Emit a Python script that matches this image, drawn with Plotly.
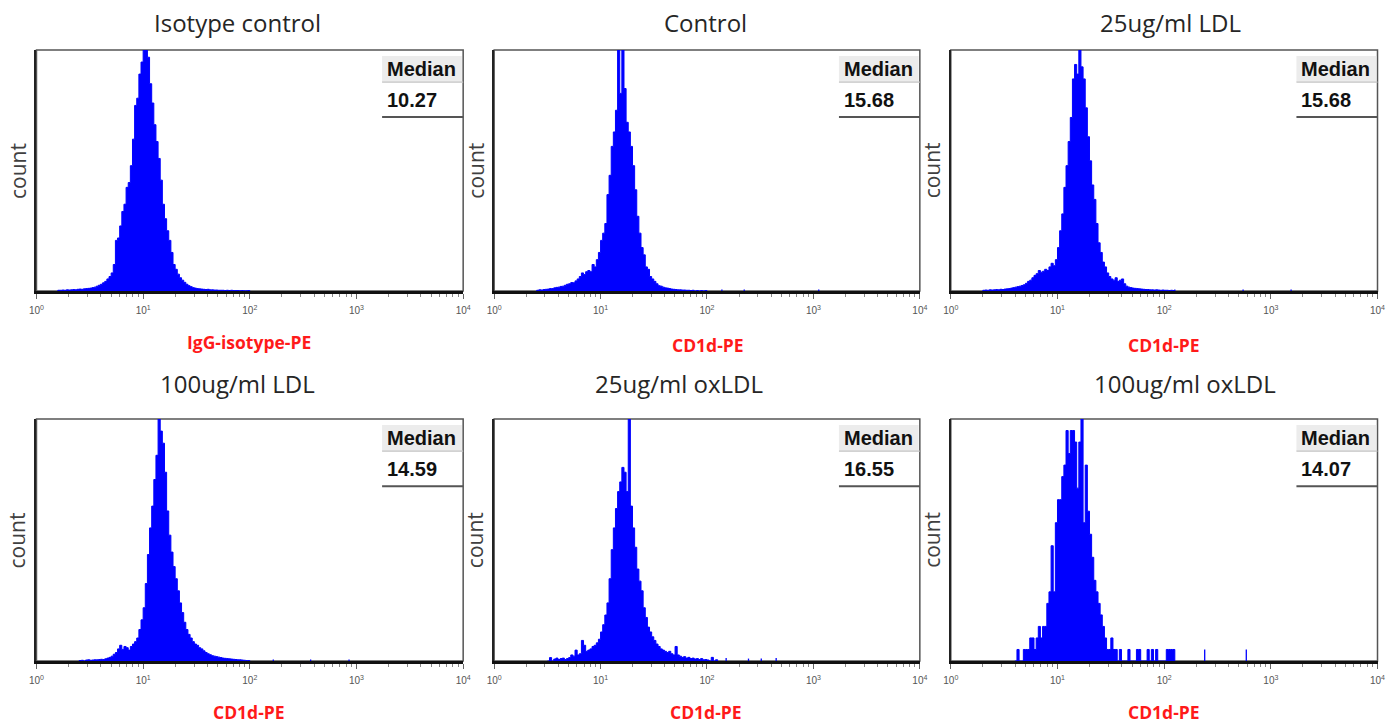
import plotly.graph_objects as go

# ---------------- data ----------------
PANEL_TITLES = ["Isotype control", "Control", "25ug/ml LDL",
                "100ug/ml LDL", "25ug/ml oxLDL", "100ug/ml oxLDL"]
X_LABELS = ["IgG-isotype-PE", "CD1d-PE", "CD1d-PE", "CD1d-PE", "CD1d-PE", "CD1d-PE"]
MEDIANS = ["10.27", "15.68", "15.68", "14.59", "16.55", "14.07"]

TICK_VALS = [1, 10, 100, 1000, 10000]
TICK_TEXT = ["10<sup>0</sup>", "10<sup>1</sup>", "10<sup>2</sup>", "10<sup>3</sup>", "10<sup>4</sup>"]

LOG_BIN_WIDTH = 0.02   # histogram channel width in decades

# first channel (log10 of fluorescence) of each histogram
P1_START = 0.20
P2_START = 0.40
P3_START = 0.30
P4_START = 0.40
P5_START = 0.50
P6_START = 0.60

# counts per channel (panels 1-5 in % of the plot height, panel 6 in events)
P1_COUNTS = [0.3, 0.3, 0.4, 0.3, 0.5, 0.4, 0.5, 0.6, 0.5, 0.7,
             0.8, 0.7, 0.9, 1.0, 1.1, 1.2, 1.4, 1.6, 2.0, 2.4,
             2.8, 3.4, 4.0, 5.0, 6.0, 7.5, 11, 21, 22, 27,
             33, 36, 43, 45, 52, 63, 77, 80, 90, 95,
             104, 106, 97, 86, 78, 69, 62, 55, 46, 36,
             30, 25, 21, 16, 11, 9, 7, 5.5, 4.5, 3.6,
             2.8, 2.2, 1.8, 1.4, 1.2, 1.0, 0.9, 0.8, 0.7, 0.6,
             0.7, 0.5, 0.5, 0.4, 0.4, 0.3, 0.3, 0.3, 0.2, 0.3,
             0.2, 0.3, 0.2, 0.2, 0.2, 0.1, 0.2, 0.1, 0.1, 0.2]
P2_COUNTS = [0.3, 0.5, 0.4, 0.6, 0.7, 0.8, 1.0, 1.0, 1.3, 1.5,
             1.6, 1.9, 2.0, 2.4, 2.8, 3.0, 3.5, 3.4, 4.2, 5.0,
             6.0, 7.5, 6.8, 8.0, 8.5, 8.0, 11, 10, 13, 16,
             21, 24, 28, 40, 48, 60, 66, 75, 104, 82,
             110, 84, 70, 66, 60, 52, 42, 31, 24, 18,
             15, 10, 9, 6, 5, 4, 3, 2.2, 2.0, 1.6,
             1.3, 1.2, 1.0, 0.8, 0.7, 0.6, 0.5, 0.5, 0.4, 0.4,
             0.3, 0.3, 0.2, 0.3, 0, 0.2, 0, 0.2, 0, 0.2]
P3_COUNTS = [0.3, 0.4, 0.3, 0.5, 0.4, 0.5, 0.6, 0.5, 0.7, 0.6,
             0.8, 0.9, 1.0, 1.2, 1.4, 1.6, 1.8, 2.0, 2.3, 2.6,
             3.2, 4.0, 4.5, 5.5, 6.5, 7.2, 8.5, 7.8, 8.2, 9.0,
             8.5, 10, 11.5, 10.5, 13, 18, 25, 32, 43, 52,
             62, 72, 88, 94, 90, 106, 93, 88, 76, 64,
             54, 44, 38, 28, 20, 16, 12, 10, 7.5, 6,
             5, 4.5, 5.5, 4, 4.5, 5, 3, 2, 1.6, 1.4,
             1.2, 1.1, 1.0, 0.9, 0.8, 0.7, 0.6, 0.6, 0.5, 0.5,
             0.4, 0.5, 0.4, 0.3, 0.4, 0.3, 0.3, 0.2, 0.3, 0.2]
P4_COUNTS = [0.2, 0.3, 0, 0.4, 0.5, 0.3, 0.4, 0.5, 0.5, 0.6,
             0.7, 0.6, 0.9, 1.2, 1.5, 2.0, 2.8, 3.5, 5.0, 6.5,
             4.8, 6.0, 5.5, 4.5, 6.0, 7.0, 8.0, 9.5, 13, 17,
             22, 32, 44, 55, 64, 75, 85, 104, 95, 90,
             78, 62, 52, 45, 39, 34, 29, 24, 20, 16,
             13, 11, 9.5, 8, 7, 6.5, 5.5, 5, 4.2, 3.5,
             3, 2.6, 2.2, 2.0, 1.8, 1.6, 1.4, 1.2, 1.1, 1.0,
             0.9, 0.8, 0.7, 0.6, 0.5, 0.5, 0.4, 0.3, 0.2, 0.2]
P5_COUNTS = [0, 1.4, 0, 0.8, 1.2, 0.6, 1.0, 1.2, 0.6, 1.0,
             1.4, 2.5, 2.0, 4.5, 2.5, 3.0, 8.5, 6.5, 4.0, 4.5,
             5.0, 6.0, 6.5, 7.5, 9.0, 12, 15, 19, 24, 34,
             46, 55, 63, 70, 74, 80, 78, 70, 115, 64,
             55, 47, 38, 33, 29, 22, 18, 14, 12, 10,
             8.5, 7.0, 6.0, 5.0, 4.5, 4.0, 3.5, 4.0, 3.0, 2.5,
             6.0, 2.5, 2.0, 1.5, 1.8, 1.2, 1.5, 1.0, 1.2, 0.8,
             1.0, 0.6, 1.0, 0.5, 0.6, 0.4, 0, 1.5, 0, 0.5]
P6_COUNTS = [0, 1, 0, 0, 1, 1, 1, 2, 2, 1,
             2, 3, 2, 3, 3, 5, 6, 10, 6, 12,
             14, 14, 16, 17, 20, 18, 20, 20, 19, 15,
             19, 23, 12, 17, 13, 11, 9, 7, 6, 5,
             4, 3, 2, 1, 1, 2, 1, 1, 0, 1,
             0, 0, 0, 1, 0, 0, 0, 1, 1, 0,
             0, 0, 1, 0, 1, 0, 1, 0, 0, 0,
             0, 1, 1, 1, 1]

# isolated single events far out in the tail (log10 position, height)
P1_EVENTS_LOG = []
P1_EVENTS_H = []
P2_EVENTS_LOG = [2.14, 2.35, 3.05]
P2_EVENTS_H = [0.6, 0.6, 0.6]
P3_EVENTS_LOG = [2.10, 2.74, 3.19]
P3_EVENTS_H = [0.6, 0.6, 0.6]
P4_EVENTS_LOG = [2.22, 2.57, 2.93]
P4_EVENTS_H = [0.6, 0.6, 0.6]
P5_EVENTS_LOG = [2.18, 2.39, 2.51, 2.65]
P5_EVENTS_H = [1.2, 1.0, 1.0, 1.2]
P6_EVENTS_LOG = [2.38, 2.77]
P6_EVENTS_H = [1, 1]

Y_MAX = [100, 100, 100, 100, 100, 21]

STARTS = [P1_START, P2_START, P3_START, P4_START, P5_START, P6_START]
COUNTS = [P1_COUNTS, P2_COUNTS, P3_COUNTS, P4_COUNTS, P5_COUNTS, P6_COUNTS]
EV_LOG = [P1_EVENTS_LOG, P2_EVENTS_LOG, P3_EVENTS_LOG, P4_EVENTS_LOG, P5_EVENTS_LOG, P6_EVENTS_LOG]
EV_H = [P1_EVENTS_H, P2_EVENTS_H, P3_EVENTS_H, P4_EVENTS_H, P5_EVENTS_H, P6_EVENTS_H]

# ---------------- layout geometry (pixels) ----------------
W, H = 1392, 723
# the page shows the paper over a slightly narrower band; map target pixels into it
PAPER_LEFT, PAPER_W = 7.5, 1377.0


def fx(px):
    return (px - PAPER_LEFT) / PAPER_W


def fy(py):
    return 1 - py / H


COL_X = [(36, 463), (494, 920), (951, 1378)]
ROW_Y = [(50, 291), (419, 661)]
TITLE_POS = [(237, 22), (706, 22), (1171, 22), (237, 383), (679, 383), (1185, 383)]
XLAB_POS = [(249, 342), (708, 345), (1164, 345), (249, 712), (706, 712), (1164, 712)]

BLUE = "#0000ff"
MINOR_VALS = [m * 10 ** d for d in range(4) for m in range(2, 10)]

fig = go.Figure()
layout = dict(width=W, height=H, autosize=False, margin=dict(l=0, r=0, t=0, b=0, pad=0),
              paper_bgcolor="white", plot_bgcolor="white", showlegend=False)
shapes, annotations = [], []

for i in range(6):
    r, c = divmod(i, 3)
    sfx = "" if i == 0 else str(i + 1)
    xa, ya = "x" + sfx, "y" + sfx
    x0, x1 = COL_X[c]
    y0, y1 = ROW_Y[r]

    start, counts = STARTS[i], COUNTS[i]
    edges = [start + k * LOG_BIN_WIDTH for k in range(len(counts) + 1)]
    xs = [10 ** edges[0]] + [10 ** e for e in edges[:-1]] + [10 ** edges[-1]]
    ys = [0] + list(counts) + [0]
    fig.add_trace(go.Scatter(x=xs, y=ys, mode="lines",
                             line=dict(shape="hv", color=BLUE, width=1),
                             fill="tozeroy", fillcolor=BLUE,
                             xaxis=xa, yaxis=ya, hoverinfo="skip"))
    if EV_LOG[i]:
        ex, ey = [], []
        for e, h in zip(EV_LOG[i], EV_H[i]):
            ex += [10 ** e, 10 ** e, None]
            ey += [0, h, None]
        fig.add_trace(go.Scatter(x=ex, y=ey, mode="lines",
                                 line=dict(color=BLUE, width=1.3),
                                 xaxis=xa, yaxis=ya, hoverinfo="skip"))

    layout["xaxis" + sfx] = dict(
        type="log", range=[0, 4], domain=[fx(x0), fx(x1)], anchor=ya,
        showline=True, linecolor="#111", linewidth=2.5,
        ticks="outside", ticklen=5, tickwidth=1, tickcolor="#666",
        tickvals=TICK_VALS, ticktext=TICK_TEXT, ticklabelstandoff=3,
        tickfont=dict(family="Liberation Sans", size=10, color="#555"),
        minor=dict(tickvals=MINOR_VALS, ticks="outside", ticklen=3,
                   tickwidth=1, tickcolor="#888"),
        showgrid=False, zeroline=False, fixedrange=True)
    layout["yaxis" + sfx] = dict(
        range=[0, Y_MAX[i]], domain=[fy(y1), fy(y0)], anchor=xa,
        showline=True, linecolor="#222", linewidth=2,
        showticklabels=False, ticks="", showgrid=False, zeroline=False,
        fixedrange=True)

    xd, yd = xa + " domain", ya + " domain"
    # frame
    shapes.append(dict(type="rect", xref=xd, yref=yd, x0=0, x1=1, y0=0, y1=1,
                       line=dict(color="#555", width=1.5), layer="below"))
    # median box
    shapes.append(dict(type="rect", xref=xd, yref=yd, x0=0.81, x1=0.997,
                       y0=0.867, y1=0.975, fillcolor="#ececec",
                       line=dict(width=0), layer="above"))
    shapes.append(dict(type="line", xref=xd, yref=yd, x0=0.81, x1=1,
                       y0=0.867, y1=0.867, line=dict(color="#c4c4c4", width=1.2),
                       layer="above"))
    shapes.append(dict(type="line", xref=xd, yref=yd, x0=0.81, x1=1,
                       y0=0.722, y1=0.722, line=dict(color="#555", width=2),
                       layer="above"))
    annotations.append(dict(text="<b>Median</b>", xref=xd, yref=yd, x=0.817, y=0.921,
                            xanchor="left", yanchor="middle", showarrow=False,
                            font=dict(family="Liberation Sans", size=20, color="#111")))
    annotations.append(dict(text="<b>" + MEDIANS[i] + "</b>", xref=xd, yref=yd,
                            x=0.817, y=0.793, xanchor="left", yanchor="middle",
                            showarrow=False,
                            font=dict(family="Liberation Sans", size=20, color="#111")))
    # titles / labels
    tx, ty = TITLE_POS[i]
    annotations.append(dict(text=PANEL_TITLES[i], xref="paper", yref="paper",
                            x=fx(tx), y=fy(ty), xanchor="center", yanchor="middle",
                            showarrow=False,
                            font=dict(family="Open Sans", size=24, color="#262626")))
    lx, ly = XLAB_POS[i]
    annotations.append(dict(text="<b>" + X_LABELS[i] + "</b>", xref="paper", yref="paper",
                            x=fx(lx), y=fy(ly), xanchor="center", yanchor="middle",
                            showarrow=False,
                            font=dict(family="Open Sans", size=17.5, color="#ff1a1a")))
    annotations.append(dict(text="count", xref="paper", yref="paper",
                            x=fx(x0 - 19), y=fy((y0 + y1) / 2),
                            xanchor="center", yanchor="middle", textangle=-90,
                            showarrow=False,
                            font=dict(family="Open Sans", size=21, color="#404040")))

layout["shapes"] = shapes
layout["annotations"] = annotations
fig.update_layout(**layout)
fig.write_html("out.html", config={"responsive": False},
               post_script="document.documentElement.style.overflow='hidden';"
                           "document.body.style.margin='0';"
                           "document.body.style.overflow='hidden';")
